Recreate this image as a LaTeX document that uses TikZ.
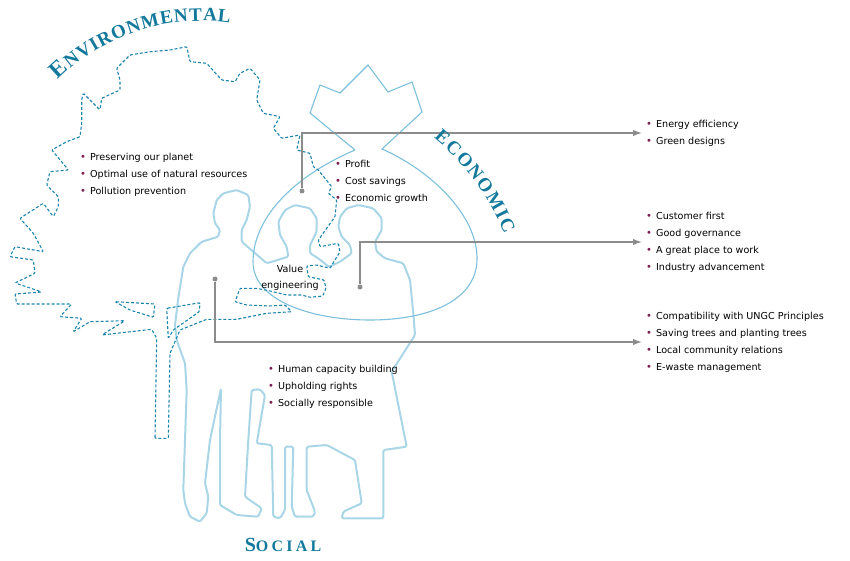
\documentclass[tikz,border=0pt]{standalone}
\usepackage{fontspec}
\setmainfont{DejaVu Sans}
\newfontfamily\titlefont[LetterSpace=20]{Liberation Serif}
\newfontfamily\arcfont{Liberation Serif}
\usepackage{tikz}
\usetikzlibrary{arrows.meta,positioning}

\definecolor{treeblue}{HTML}{1B85AE}
\definecolor{bagblue}{HTML}{7CC0DC}
\definecolor{folkblue}{HTML}{A9D6E6}
\definecolor{linegray}{HTML}{8C8C8C}
\definecolor{titleteal}{HTML}{13799C}
\definecolor{bulcol}{HTML}{7A1E52}

\newcommand{\itm}{\textcolor{bulcol}{\fontsize{10}{10}\selectfont\textbullet}\hspace{4pt}}
\newcommand{\capA}{\bfseries\fontsize{20}{20}\selectfont}
\newcommand{\capB}{\bfseries\fontsize{16}{16}\selectfont}
\newcommand{\arcA}{\arcfont\bfseries\fontsize{23}{23}\selectfont}
\newcommand{\arcB}{\arcfont\bfseries\fontsize{19}{19}\selectfont}

\begin{document}
\begin{tikzpicture}[x=1pt,y=-1pt,>={Latex[length=9pt,width=6.5pt]},
    tree/.style={treeblue,line width=1.1pt,dash pattern=on 3pt off 2pt,rounded corners=1pt},
    bag/.style={bagblue,line width=1.1pt},
    folk/.style={folkblue,line width=2pt,line join=round,rounded corners=1.5pt},
    link/.style={->,linegray,line width=1.4pt},
    dot/.style={circle,fill=linegray,inner sep=0pt,minimum size=5pt},
    list/.style={align=left,anchor=west,inner sep=0pt,font=\fontsize{9.6}{17}\selectfont},
    arcletter/.style={anchor=base,inner sep=0pt,text=titleteal,font=\arcB},
    headline/.style={text=titleteal,font=\titlefont}]
    \useasboundingbox (0,0) rectangle (850,561);

    % people
    \draw[folk] (200,521.7) -- (190,516.7) -- (185,503.3) -- (183.3,490) -- (185,440) -- (186.7,390)
        -- (185,363.3) -- (176.7,340) -- (175,325) -- (178,300) -- (183.3,266.7) -- (190,253.3)
        -- (201.7,241.7) -- (218.3,236.7) -- (220,230) -- (215,223.3) -- (213.3,213.3) -- (216.7,200)
        -- (223.3,193.3) -- (236.7,190) -- (248.3,195) -- (250,206.7) -- (246.7,220) -- (241.7,230)
        -- (241.7,241.7) -- (266.7,263.3) -- (288.3,256.7) -- (286.7,246.7) -- (280,235) -- (278.3,221.7)
        -- (285,210) -- (295,205) -- (310,208.3) -- (316.7,218.3) -- (316.7,231.7) -- (310,245)
        -- (310,253.3) -- (318.3,258.3) -- (329,267) -- (340,261.7) -- (351.7,253.3) -- (350,245)
        -- (341.7,236.7) -- (338.3,226.7) -- (340,216.7) -- (346.7,208.3) -- (358.3,205) -- (373.3,208.3)
        -- (381.7,218.3) -- (381.7,230) -- (375,241.7) -- (376.7,251.7) -- (385,258.3) -- (403.3,263.3)
        -- (410,280) -- (413.3,313.3) -- (415,335) -- (391.7,371.7) -- (406.7,446.7) -- (383.3,450)
        -- (383.3,518.3) -- (341.7,518.3) -- (343.3,511.7) -- (361.7,503.3) -- (355,460) -- (326.7,445)
        -- (306.7,446.7) -- (306.7,490) -- (315,511.7) -- (313.3,516.7) -- (295,516.7) -- (291.7,506.7)
        -- (293.3,446.7) -- (285,446.7) -- (285,510) -- (280,518.3) -- (273.3,516.7) -- (271.7,445)
        -- (256.7,443.3) -- (265,395) -- (260,389.3) -- (251.7,390) -- (248.3,440) -- (245,496.7)
        -- (261.7,508.3) -- (258.3,516.7) -- (236.7,515) -- (220,505) -- (220,440) -- (221,388.3)
        -- (210,440) -- (205,483.3) -- (208.3,496.7) -- (206.7,513.3) -- cycle;

    % money bag
    \draw[bag] (355,150) -- (310,113) -- (320,85) -- (340,93) -- (368,65) -- (388,92) -- (412,82)
        -- (422,112) -- (382,149) .. controls (430,170) and (478,215) .. (477,260)
        .. controls (476,300) and (430,320) .. (370,320) .. controls (310,320) and (253,300) .. (253,262)
        .. controls (253,220) and (290,178) .. (355,150);

    % tree
    \draw[tree] (155,438.3) -- (156.7,338.3) -- (151.7,329.3) -- (101.7,335) -- (125,320.7) -- (90,321.7)
        -- (73.3,331.7) -- (81.7,318.3) -- (60,316.7) -- (71.7,304) -- (16.7,304) -- (15,294) -- (42,292)
        -- (15,283) -- (35,273.3) -- (33.3,260) -- (10,256.7) -- (15,246.7) -- (43.3,251.7) -- (33.3,233.3)
        -- (20,218.3) -- (43.3,203.3) -- (53.3,216.7) -- (58.3,206.7) -- (58.3,196.7) -- (46.7,185)
        -- (50,171.7) -- (68.3,170) -- (61.7,161.7) -- (51.7,150) -- (66.7,141.7) -- (80,136.7)
        -- (81.7,123.3) -- (81.7,100) -- (83.3,93.3) -- (100,110) -- (101.7,98.3) -- (120,90) -- (120,80)
        -- (116.7,68.3) -- (130,55) -- (150,51.7) -- (170,50) -- (186.7,46.7) -- (190,61.7) -- (206.7,63.3)
        -- (221.7,80) -- (235,81.7) -- (240,73.3) -- (250,68.3) -- (260,80) -- (256.7,100) -- (263.3,113.3)
        -- (280,116.7) -- (273.3,128.3) -- (281.7,138.3) -- (300,135) -- (296.7,150) -- (310,153.3)
        -- (313.3,166.7) -- (318.3,170) -- (331.7,186.7) -- (328.3,193.3) -- (336.7,200) -- (335,216.7)
        -- (326.7,228.3) -- (318.3,240) -- (320,246.7) -- (338.3,243.3) -- (340,251.7) -- (330,268.3)
        -- (316.7,265) -- (306.7,266) -- (308.3,276.7) -- (324,280) -- (326,288.3) -- (322.7,296)
        -- (310,297.3) -- (301.7,295) -- (286.7,295) -- (270,291) -- (256.7,288.3) -- (240,288.3)
        -- (235,301.7) -- (246.7,305) -- (270,306) -- (285,305) -- (291.7,311.7) -- (266.7,313.3)
        -- (236.7,319.3) -- (206.7,319.3) -- (180,330) -- (170,353.3) -- (168.3,438.3) -- cycle;
    \draw[tree] (115,301.7) -- (155,304) -- (153.3,317.3) -- (130,310) -- cycle;
    \draw[tree] (166.7,308.3) -- (200,302.7) -- (199.3,311.7) -- (173.3,330) -- (168.3,338.3) -- cycle;

    % connectors
    \node[dot] (d1) at (302,191) {};
    \node[dot] (d2) at (360,287) {};
    \node[dot] (d3) at (215,279) {};
    \coordinate (a1) at (642,133);
    \coordinate (a2) at (642,242);
    \coordinate (a3) at (642,342);
    \draw[link] (d1) |- (a1);
    \draw[link] (d2) |- (a2);
    \draw[link] (d3) |- (a3);

    % lists
    \node[list,right=4pt of a1] (eco) {\itm Energy efficiency\\ \itm Green designs};
    \node[list,right=4pt of a2] (soc) {\itm Customer first\\ \itm Good governance\\
        \itm A great place to work\\ \itm Industry advancement};
    \node[list,right=4pt of a3] (env) {\itm Compatibility with UNGC Principles\\
        \itm Saving trees and planting trees\\ \itm Local community relations\\ \itm E-waste management};
    \node[list,anchor=north west] (planet) at (80,153.5) {\itm Preserving our planet\\
        \itm Optimal use of natural resources\\ \itm Pollution prevention};
    \node[list,anchor=north west] (money) at (335,160.5) {\itm Profit\\ \itm Cost savings\\ \itm Economic growth};
    \node[list,anchor=north west] (people) at (268,365.5) {\itm Human capacity building\\
        \itm Upholding rights\\ \itm Socially responsible};
    \node[align=center,inner sep=0pt,font=\fontsize{9.6}{16}\selectfont] (value) at (290,278) {Value\\engineering};

    % titles
    \coordinate (envc) at (201,225);
    \coordinate (ecoc) at (273,329);
    \foreach \ch/\a [count=\i] in {\arcA E/132.4,N/128,V/123.9,I/120.6,R/117.4,O/113.1,N/108.8,
        M/104.1,E/99.5,N/95.5,T/91.5,A/87.5,L/83.6}
        \node[arcletter,rotate=\a-90] (envl\i) at ([shift={(\a:204pt)}]envc) {\ch};
    \foreach \ch/\a [count=\i] in {E/48.5,C/45.1,O/41.4,N/37.8,O/34.1,M/29.9,I/26.6,C/23.8}
        \node[arcletter,rotate=\a-90] (ecol\i) at ([shift={(\a:250pt)}]ecoc) {\ch};
    \node[headline] (social) at (283,545) {{\capA S}{\capB OCIAL}};
\end{tikzpicture}
\end{document}
